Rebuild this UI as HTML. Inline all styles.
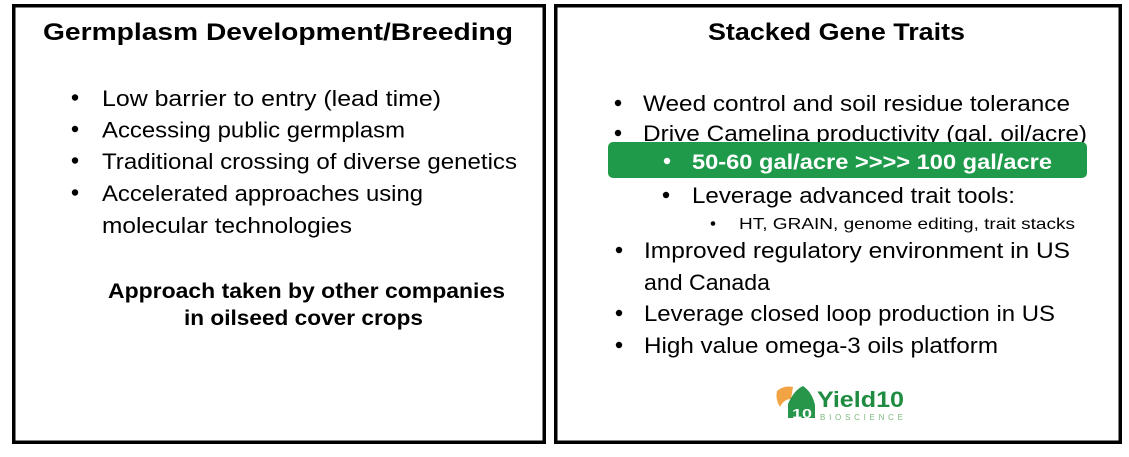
<!DOCTYPE html>
<html>
<head>
<meta charset="utf-8">
<style>
  html, body { margin: 0; padding: 0; background: #ffffff; }
  body { width: 1129px; height: 457px; overflow: hidden; }
  svg { display: block; }
  text { font-family: "Liberation Sans", "DejaVu Sans", sans-serif; fill: #000; }
  .b { font-weight: bold; }
</style>
</head>
<body>
<svg width="1129" height="457" viewBox="0 0 1129 457" xmlns="http://www.w3.org/2000/svg">
  <rect x="0" y="0" width="1129" height="457" fill="#ffffff"/>

  <!-- Left box -->
  <rect x="13.75" y="5.75" width="530.5" height="436.5" fill="none" stroke="#000" stroke-width="3.5"/>
  <text class="b" x="43" y="40" font-size="24" textLength="470" lengthAdjust="spacingAndGlyphs">Germplasm Development/Breeding</text>

  <g fill="#000">
    <circle cx="75" cy="97.5" r="3.2"/>
    <circle cx="75" cy="129" r="3.2"/>
    <circle cx="75" cy="160.5" r="3.2"/>
    <circle cx="75" cy="192.5" r="3.2"/>
  </g>
  <text x="102" y="106" font-size="22" textLength="339" lengthAdjust="spacingAndGlyphs">Low barrier to entry (lead time)</text>
  <text x="102" y="137.5" font-size="22" textLength="303" lengthAdjust="spacingAndGlyphs">Accessing public germplasm</text>
  <text x="102" y="169" font-size="22" textLength="415" lengthAdjust="spacingAndGlyphs">Traditional crossing of diverse genetics</text>
  <text x="102" y="201" font-size="22" textLength="321" lengthAdjust="spacingAndGlyphs">Accelerated approaches using</text>
  <text x="102" y="233" font-size="22" textLength="250" lengthAdjust="spacingAndGlyphs">molecular technologies</text>

  <text class="b" x="108" y="298" font-size="21" textLength="397" lengthAdjust="spacingAndGlyphs">Approach taken by other companies</text>
  <text class="b" x="184" y="325" font-size="21" textLength="239" lengthAdjust="spacingAndGlyphs">in oilseed cover crops</text>

  <!-- Right box -->
  <rect x="555.75" y="5.75" width="564.5" height="436.5" fill="none" stroke="#000" stroke-width="3.5"/>
  <text class="b" x="708" y="40" font-size="24" textLength="257" lengthAdjust="spacingAndGlyphs">Stacked Gene Traits</text>

  <g fill="#000">
    <circle cx="618" cy="103" r="3.2"/>
    <circle cx="618" cy="133" r="3.2"/>
    <circle cx="666" cy="195" r="3.2"/>
    <circle cx="713" cy="223.5" r="2.3"/>
    <circle cx="619" cy="250" r="3.2"/>
    <circle cx="619" cy="313" r="3.2"/>
    <circle cx="619" cy="345" r="3.2"/>
  </g>
  <text x="643" y="111" font-size="22" textLength="427" lengthAdjust="spacingAndGlyphs">Weed control and soil residue tolerance</text>
  <text x="643" y="141" font-size="22" textLength="444" lengthAdjust="spacingAndGlyphs">Drive Camelina productivity (gal. oil/acre)</text>

  <rect x="608" y="142" width="479" height="36" rx="5" ry="5" fill="#1f9a4a"/>
  <circle cx="667" cy="161" r="3.2" fill="#ffffff"/>
  <text class="b" x="692" y="169" font-size="21" textLength="360" lengthAdjust="spacingAndGlyphs" style="fill:#ffffff">50-60 gal/acre &gt;&gt;&gt;&gt; 100 gal/acre</text>

  <text x="692" y="203" font-size="22" textLength="323" lengthAdjust="spacingAndGlyphs">Leverage advanced trait tools:</text>
  <text x="739" y="229" font-size="16" textLength="336" lengthAdjust="spacingAndGlyphs">HT, GRAIN, genome editing, trait stacks</text>

  <text x="644" y="258" font-size="22" textLength="426" lengthAdjust="spacingAndGlyphs">Improved regulatory environment in US</text>
  <text x="644" y="290" font-size="22" textLength="126" lengthAdjust="spacingAndGlyphs">and Canada</text>
  <text x="644" y="321" font-size="22" textLength="411" lengthAdjust="spacingAndGlyphs">Leverage closed loop production in US</text>
  <text x="644" y="353" font-size="22" textLength="354" lengthAdjust="spacingAndGlyphs">High value omega-3 oils platform</text>

  <!-- Logo -->
  <path d="M777,391 Q784,385 793,387 L791,399 Q784,399 780,407 Q775,399 777,391 Z" fill="#f2a444"/>
  <path d="M788,418 L788,404 Q794,390 803,386 Q812,392 815,405 L815,418 Z" fill="#27964a"/>
  <text class="b" x="792" y="418" font-size="13" textLength="20" lengthAdjust="spacingAndGlyphs" style="fill:#ffffff">10</text>
  <text class="b" x="817" y="407" font-size="22" textLength="87" lengthAdjust="spacingAndGlyphs" style="fill:#1f8c42">Yield10</text>
  <text x="820" y="420" font-size="8" textLength="83" lengthAdjust="spacing" style="fill:#7cb87e">BIOSCIENCE</text>
</svg>
</body>
</html>
